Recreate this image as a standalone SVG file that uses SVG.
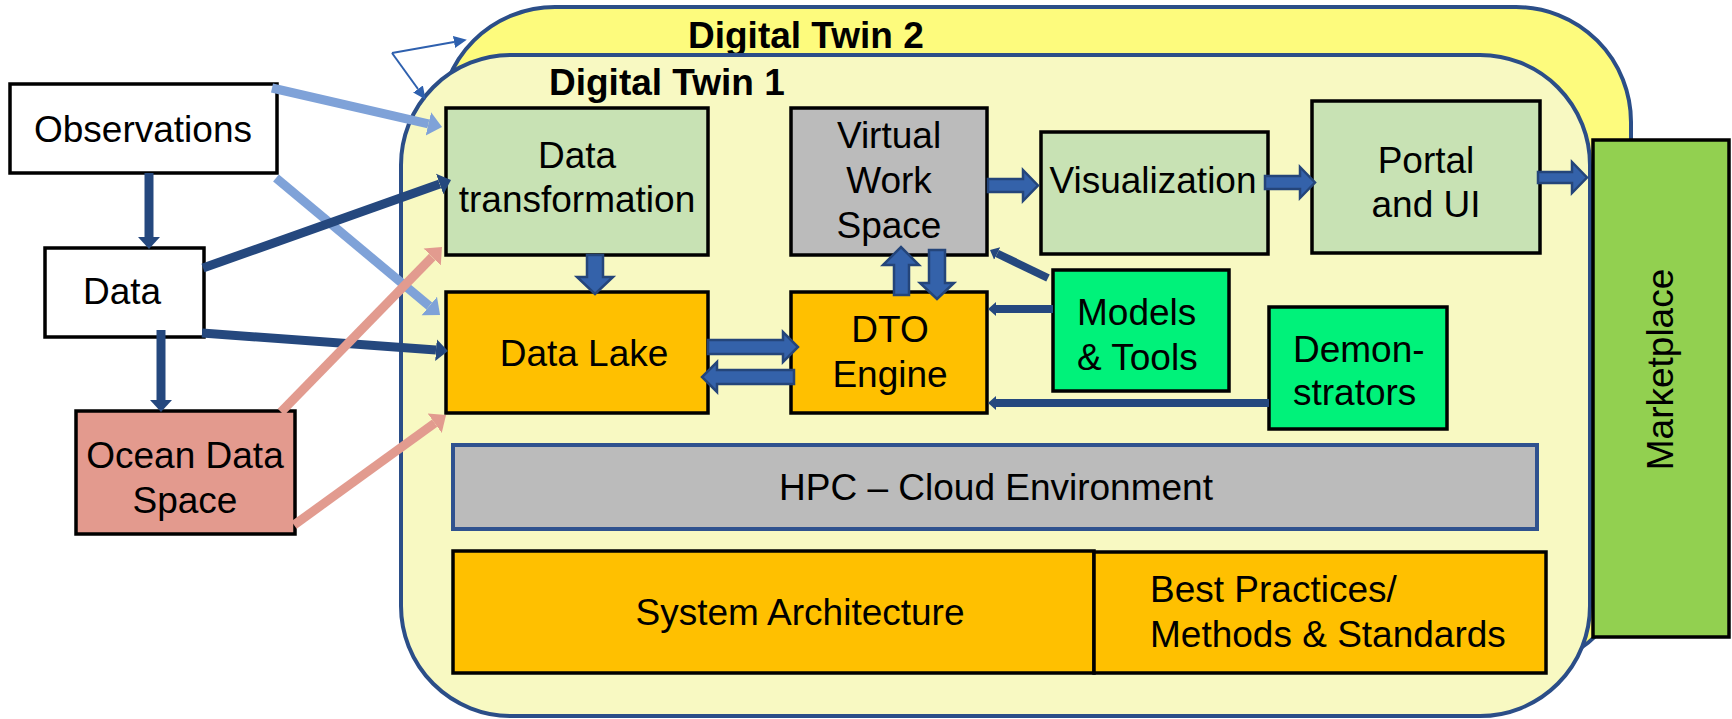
<svg xmlns="http://www.w3.org/2000/svg" width="1732" height="719" viewBox="0 0 1732 719">
<style>
text{font-family:"Liberation Sans",Arial,sans-serif;font-size:37px;fill:#000}
.t{font-weight:bold}
.m{text-anchor:middle}
.bx{stroke:#000;stroke-width:3.5}
.dk{stroke:#25487E;stroke-width:9;fill:none}
.dk2{stroke:#25487E;stroke-width:8;fill:none}
.lb{stroke:#7FA2D8;stroke-width:9;fill:none}
.pk{stroke:#E29B8F;stroke-width:9;fill:none}
.th{stroke:#2E60AE;stroke-width:2;fill:none}
.blk{fill:#3462AA;stroke:#24457A;stroke-width:2.5;stroke-linejoin:miter}
</style>
<defs>
<marker id="hd" markerUnits="userSpaceOnUse" markerWidth="14" markerHeight="24" refX="0" refY="11" orient="auto" viewBox="0 0 14 22"><path d="M0,0 L12,11 L0,22 z" fill="#25487E"/></marker>
<marker id="hs" markerUnits="userSpaceOnUse" markerWidth="10" markerHeight="16" refX="0" refY="7" orient="auto" viewBox="0 0 10 14"><path d="M0,0 L8,7 L0,14 z" fill="#25487E"/></marker>
<marker id="hl" markerUnits="userSpaceOnUse" markerWidth="16" markerHeight="26" refX="0" refY="12" orient="auto" viewBox="0 0 16 24"><path d="M0,0 L14,12 L0,24 z" fill="#7FA2D8"/></marker>
<marker id="hp" markerUnits="userSpaceOnUse" markerWidth="16" markerHeight="26" refX="0" refY="12" orient="auto" viewBox="0 0 16 24"><path d="M0,0 L14,12 L0,24 z" fill="#E29B8F"/></marker>
<marker id="ht" markerUnits="userSpaceOnUse" markerWidth="14" markerHeight="14" refX="0" refY="6" orient="auto" viewBox="0 0 14 12"><path d="M0,0 L13,6 L0,12 z" fill="#2E60AE"/></marker>
</defs>

<g id="digital-twin-2">
<rect x="440" y="7" width="1191" height="661" rx="115" ry="115" fill="#FDFB7D" stroke="#2B4E88" stroke-width="4"/>
<text class="t" x="688" y="48">Digital Twin 2</text>
</g>
<g id="digital-twin-1">
<rect x="401" y="55" width="1189" height="661" rx="110" ry="110" fill="#F8F9C2" stroke="#2B4E88" stroke-width="4"/>
<text class="t" x="549" y="95">Digital Twin 1</text>
</g>

<g id="observations">
<rect class="bx" x="10" y="84" width="267" height="89" fill="#fff"/>
<text class="m" x="143" y="142">Observations</text>
</g>
<g id="data">
<rect class="bx" x="45" y="248" width="159" height="89" fill="#fff"/>
<text class="m" x="122" y="304">Data</text>
</g>
<g id="ocean-data-space">
<rect class="bx" x="76" y="411" width="219" height="123" fill="#E39A8E"/>
<text class="m" x="185" y="468">Ocean Data</text>
<text class="m" x="185" y="513">Space</text>
</g>
<g id="data-transformation">
<rect class="bx" x="446" y="108" width="262" height="147" fill="#C8E2B4"/>
<text class="m" x="577" y="168">Data</text>
<text class="m" x="577" y="212">transformation</text>
</g>
<g id="data-lake">
<rect class="bx" x="446" y="292" width="262" height="121" fill="#FFC000"/>
<text class="m" x="584" y="366">Data Lake</text>
</g>
<g id="virtual-work-space">
<rect class="bx" x="791" y="108" width="196" height="147" fill="#BBBBBB"/>
<text class="m" x="889" y="148">Virtual</text>
<text class="m" x="889" y="193">Work</text>
<text class="m" x="889" y="238">Space</text>
</g>
<g id="dto-engine">
<rect class="bx" x="791" y="292" width="196" height="121" fill="#FFC000"/>
<text class="m" x="890" y="342">DTO</text>
<text class="m" x="890" y="387">Engine</text>
</g>
<g id="visualization">
<rect class="bx" x="1041" y="132" width="227" height="122" fill="#C8E2B4"/>
<text class="m" x="1153" y="193">Visualization</text>
</g>
<g id="portal-and-ui">
<rect class="bx" x="1312" y="101" width="228" height="152" fill="#C8E2B4"/>
<text class="m" x="1426" y="173">Portal</text>
<text class="m" x="1426" y="217">and UI</text>
</g>
<g id="models-tools">
<rect class="bx" x="1053" y="270" width="176" height="121" fill="#00F27A"/>
<text x="1077" y="325">Models</text>
<text x="1077" y="370">&amp; Tools</text>
</g>
<g id="demonstrators">
<rect class="bx" x="1269" y="307" width="178" height="122" fill="#00F27A"/>
<text x="1293" y="362">Demon-</text>
<text x="1293" y="405">strators</text>
</g>
<g id="hpc-cloud">
<rect x="453" y="445" width="1084" height="84" fill="#BBBBBB" stroke="#2F528F" stroke-width="4"/>
<text class="m" x="996" y="500">HPC – Cloud Environment</text>
</g>
<g id="system-architecture">
<rect class="bx" x="453" y="551" width="641" height="122" fill="#FFC000"/>
<text class="m" x="800" y="625">System Architecture</text>
</g>
<g id="best-practices">
<rect class="bx" x="1094" y="552" width="452" height="121" fill="#FFC000" stroke-width="3"/>
<text x="1150" y="602">Best Practices/</text>
<text x="1150" y="647">Methods &amp; Standards</text>
</g>
<g id="marketplace">
<rect class="bx" x="1593" y="140" width="136" height="497" fill="#92D050"/>
<text class="m" transform="translate(1673,369.5) rotate(-90)">Marketplace</text>
</g>

<g id="connectors">
<line class="th" x1="392" y1="53" x2="454" y2="42" marker-end="url(#ht)"/>
<line class="th" x1="392" y1="53" x2="418" y2="89" marker-end="url(#ht)"/>
<line class="dk" x1="149" y1="173" x2="149" y2="237" marker-end="url(#hd)"/>
<line class="dk" x1="161" y1="330" x2="161" y2="400" marker-end="url(#hd)"/>
<line class="lb" x1="272" y1="88" x2="428.4" y2="123.9" marker-end="url(#hl)"/>
<line class="lb" x1="276" y1="178" x2="429.3" y2="306" marker-end="url(#hl)"/>
<line class="dk" x1="203" y1="268" x2="439.7" y2="184" marker-end="url(#hd)"/>
<line class="dk" x1="202" y1="333" x2="436" y2="350.1" marker-end="url(#hd)"/>
<line class="pk" x1="281" y1="412" x2="432.2" y2="257" marker-end="url(#hp)"/>
<line class="pk" x1="294" y1="525" x2="434.7" y2="423.2" marker-end="url(#hp)"/>
<line class="dk2" x1="1048" y1="278" x2="997.2" y2="253.5" stroke-width="7" marker-end="url(#hs)"/>
<line class="dk2" x1="1053" y1="309" x2="996" y2="309" marker-end="url(#hs)"/>
<line class="dk2" x1="1269" y1="403" x2="996" y2="403" marker-end="url(#hs)"/>
<polygon class="blk" points="587,255 603,255 603,277 613,277 595,294 577,277 587,277"/>
<polygon class="blk" points="708,340 783,340 783,332 798,347 783,362 783,354 708,354"/>
<polygon class="blk" points="794,370 717,370 717,362 702,377 717,392 717,384 794,384"/>
<polygon class="blk" points="894,295 894,265 883,265 901,247 919,265 909,265 909,295"/>
<polygon class="blk" points="929,250 945,250 945,283 954,283 937,299 920,283 929,283"/>
<polygon class="blk" points="988,179 1023,179 1023,170 1038,185.5 1023,201 1023,192 988,192"/>
<polygon class="blk" points="1265,176 1300,176 1300,167 1315,182.5 1300,198 1300,189 1265,189"/>
<polygon class="blk" points="1538,172 1572,172 1572,162 1587,177.5 1572,193 1572,183 1538,183"/>
</g>
</svg>
